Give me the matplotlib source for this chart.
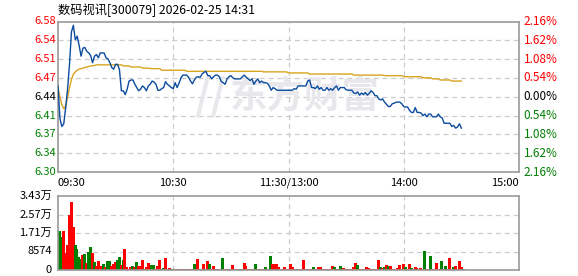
import matplotlib
matplotlib.use('Agg')
import matplotlib.pyplot as plt
import numpy as np

plt.rcParams['font.family'] = ['Noto Sans CJK SC', 'DejaVu Sans']

title = '数码视讯[300079] 2026-02-25 14:31'
prev_close = 6.44
time_labels = ['09:30', '10:30', '11:30/13:00', '14:00', '15:00']
price_labels = ['6.30', '6.34', '6.37', '6.41', '6.44', '6.47', '6.51', '6.54', '6.58']
pct_labels = ['2.16%', '1.62%', '1.08%', '0.54%', '0.00%', '0.54%', '1.08%', '1.62%', '2.16%']
vol_labels = ['0', '8574', '1.71万', '2.57万', '3.43万']
vol_max = 34296

# minute prices 09:30 .. 14:30
price = [
    6.46, 6.40, 6.385, 6.39, 6.42, 6.455, 6.50, 6.56, 6.572, 6.545,
    6.552, 6.535, 6.515, 6.53, 6.531, 6.524, 6.521, 6.516, 6.503, 6.515,
    6.518, 6.512, 6.521, 6.521, 6.521, 6.512, 6.510, 6.503, 6.494, 6.491,
    6.50, 6.50, 6.49, 6.451, 6.451, 6.444, 6.454, 6.469, 6.471, 6.471,
    6.463, 6.457, 6.451, 6.454, 6.460, 6.457, 6.451, 6.460, 6.463, 6.469,
    6.467, 6.463, 6.452, 6.452, 6.455, 6.457, 6.468, 6.463, 6.460, 6.457,
    6.455, 6.466, 6.457, 6.465, 6.475, 6.480, 6.480, 6.480, 6.476, 6.469,
    6.464, 6.471, 6.476, 6.477, 6.476, 6.482, 6.485, 6.487, 6.479, 6.479,
    6.473, 6.477, 6.480, 6.480, 6.477, 6.468, 6.466, 6.463, 6.473, 6.477,
    6.479, 6.475, 6.473, 6.473, 6.473, 6.473, 6.477, 6.480, 6.476, 6.473,
    6.470, 6.473, 6.463, 6.469, 6.473, 6.466, 6.469, 6.466, 6.466, 6.465,
    6.460, 6.452, 6.457, 6.455, 6.452, 6.452, 6.452, 6.452, 6.452, 6.452,
    6.452, 6.452, 6.452, 6.455, 6.454, 6.460, 6.460, 6.460, 6.460, 6.460,
    6.469, 6.471, 6.457, 6.457, 6.455, 6.460, 6.454, 6.457, 6.452, 6.452,
    6.457, 6.452, 6.455, 6.452, 6.457, 6.460, 6.452, 6.457, 6.457, 6.457,
    6.453, 6.452, 6.452, 6.452, 6.447, 6.446, 6.449, 6.443, 6.447, 6.444,
    6.448, 6.443, 6.446, 6.451, 6.448, 6.442, 6.442, 6.436, 6.434, 6.436,
    6.430, 6.426, 6.422, 6.422, 6.427, 6.428, 6.430, 6.430, 6.430, 6.427,
    6.422, 6.421, 6.421, 6.415, 6.411, 6.411, 6.420, 6.411, 6.411, 6.410,
    6.405, 6.408, 6.403, 6.408, 6.408, 6.403, 6.403, 6.403, 6.408, 6.403,
    6.401, 6.391, 6.391, 6.391, 6.391, 6.385, 6.387, 6.382, 6.384, 6.390, 6.382,
]

avg_price = (
    [6.457, 6.44, 6.425, 6.418, 6.423, 6.439, 6.457, 6.472, 6.482, 6.486,
     6.489, 6.491, 6.492, 6.493, 6.494, 6.495, 6.496, 6.497, 6.497, 6.498]
    + [6.499] * 14 + [6.497] * 4 + [6.495] * 6 + [6.493] * 4 + [6.492] * 6
    + [6.489] * 13 + [6.487] * 40 + [6.486] * 13 + [6.484] * 11
    + [6.482] * 23 + [6.480] * 16 + [6.479] * 10 + [6.477] * 10
    + [6.475] * 5 + [6.473] * 4 + [6.471] * 6 + [6.469] * 6
)

volume = [
    18077, 15300, 18077, 7880, 11590, 25500, 31500, 19930, 11590, 9730,
    6030, 5100, 6950, 7420, 3240, 8500, 10800, 7880, 3710, 1850,
    4170, 1850, 1850, 2780, 1390, 4170, 4170, 1850, 2780, 3710,
    4640, 6030, 2320, 4640, 9730, 1390, 460, 1390, 1850, 1390,
    3710, 1850, 1850, 4640, 460, 1390, 3240, 460, 2320, 2320,
    460, 1850, 4640, 460, 930, 5560, 460, 930, 460, 460,
    600, 500, 500, 600, 500, 500, 600, 500, 500, 600,
    2900, 500, 5250, 600, 500, 2900, 500, 3990, 2900, 600,
    1850, 500, 500, 600, 500, 5700, 500, 600, 500, 500,
    2160, 500, 600, 500, 500, 600, 3400, 1850, 500, 600,
    500, 500, 2900, 600, 500, 500, 600, 1540, 500, 600,
    6640, 2630, 2630, 2900, 1230, 500, 600, 1230, 500, 600,
    2900, 1540, 500, 600, 500, 500, 600, 4790, 500, 500,
    600, 500, 1540, 500, 600, 1230, 1540, 500, 600, 500,
    500, 600, 2000, 1540, 500, 600, 2000, 500, 1080, 500,
    600, 500, 500, 1540, 3400, 2470, 600, 500, 500, 600,
    1540, 1080, 500, 600, 500, 500, 4790, 1540, 1080, 1540,
    2470, 2000, 2000, 600, 500, 500, 1080, 2470, 500, 2900,
    1540, 500, 2900, 1080, 500, 1540, 1080, 620, 1080, 500,
    8960, 620, 500, 6640, 620, 500, 3400, 620, 500, 4330,
    620, 2000, 500, 5720, 620, 1540, 2000, 500, 4330, 1540, 620,
]

# r = up minute, g = down minute
vol_dir = (
    'ggrrrrrrgg' 'ggrgrggrgr' 'rrrgrggrrr' 'ggrgrrrrgr' 'grrrgrrrgg'
    'rrrggrrrgg' 'rrgrrrgrrr' 'grrrrrgrgr' 'rrrrggrrrr' 'rrrrgrrrrr'
    'rrgrrrrgrr' 'grrrrrrrrr' 'rrrrgrrrrr' 'rrgrrrrrrr' 'rrrgrrgrrr'
    'rrrrrgrrgr' 'rrrrrrrgrg' 'rgrrrrrrrr' 'grrgrrrgrr' 'grrgrrrrrg'
    'rgrrrgrrrrg'
)

x = np.arange(len(price))
grid_c = '#cccccc'
frame_c = '#999999'

fig = plt.figure(figsize=(5.78, 2.76), dpi=100)
ax = fig.add_axes([58 / 578, 1 - 172 / 276, 461 / 578, 150.5 / 276])
axv = fig.add_axes([58 / 578, 1 - 270 / 276, 461 / 578, 74 / 276])

lo = prev_close * (1 - 0.0216)
hi = prev_close * (1 + 0.0216)
levels = np.linspace(lo, hi, 9)

for a in (ax, axv):
    a.set_xlim(0, 240)
    for s in a.spines.values():
        s.set_color(frame_c)
        s.set_linewidth(1.2)
    a.set_xticks([])
    a.set_yticks([])
    for t in (60, 120, 180):
        a.axvline(t, color=grid_c, lw=0.9, ls=(0, (4, 3)), zorder=0)

ax.set_ylim(lo, hi)
for lv in levels[1:-1]:
    ax.axhline(lv, color=grid_c, lw=0.9, ls=(0, (4, 3)), zorder=0)

ax.text(0.535, 0.5, '东方财富', transform=ax.transAxes, ha='center', va='center',
        fontsize=27, fontweight='bold', color='#e8e8ec', zorder=1)
ax.text(0.33, 0.5, '//', transform=ax.transAxes, ha='center', va='center',
        fontsize=30, fontweight='bold', color='#e8e8ec', zorder=1)

ax.plot(x, avg_price, color='#d9a41e', lw=1.0, zorder=3)
ax.plot(x, price, color='#0b4c9e', lw=1.0, zorder=4)

for i, lv in enumerate(levels):
    c = '#ff0000' if i > 4 else ('#000000' if i == 4 else '#008000')
    ax.text(-0.004, lv, price_labels[i], transform=ax.get_yaxis_transform(),
            ha='right', va='center', fontsize=8, color=c)
    ax.text(1.01, lv, pct_labels[::-1][i], transform=ax.get_yaxis_transform(),
            ha='left', va='center', fontsize=8.5, color=c)

tpos = [0, 60, 120, 180, 240]
tha = ['left', 'center', 'center', 'center', 'right']
for t, lab, h in zip(tpos, time_labels, tha):
    ax.text(t, -0.07, lab, transform=ax.get_xaxis_transform(), ha=h, va='center',
            fontsize=8, color='#000000')

fig.text(58 / 578, 1 - 10 / 276, title, ha='left', va='center', fontsize=8.8, color='#000000')

axv.set_ylim(0, vol_max)
for k in range(1, 4):
    axv.axhline(vol_max * k / 4, color=grid_c, lw=0.9, ls=(0, (4, 3)), zorder=0)
cols = ['#ff0000' if d == 'r' else '#008000' for d in vol_dir]
axv.vlines(x + 0.6, 0, volume, colors=cols, lw=0.9, antialiased=False, zorder=2)
for k, lab in enumerate(vol_labels):
    axv.text(-0.013, vol_max * k / 4, lab, transform=axv.get_yaxis_transform(),
             ha='right', va='center', fontsize=8, color='#000000')

fig.savefig('out.png', dpi=100)
